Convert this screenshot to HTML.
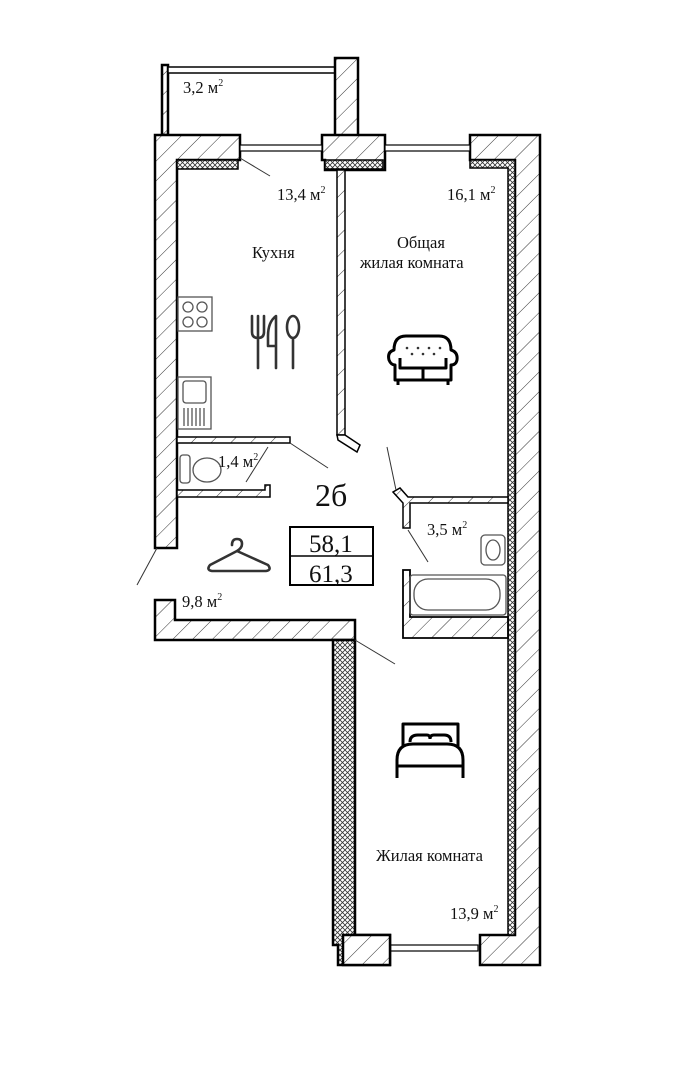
<!DOCTYPE html>
<html><head><meta charset="utf-8"><style>
html,body{margin:0;padding:0;background:#fff;}
svg{display:block;}
text{font-family:"Liberation Serif",serif;fill:#111;}
</style></head><body>
<svg width="698" height="1080" viewBox="0 0 698 1080" xmlns="http://www.w3.org/2000/svg">
<defs>
<pattern id="h" patternUnits="userSpaceOnUse" width="14" height="14" patternTransform="rotate(45)">
<rect width="14" height="14" fill="#fff"/><line x1="0" y1="0" x2="0" y2="14" stroke="#333" stroke-width="1"/>
</pattern>
<pattern id="x" patternUnits="userSpaceOnUse" width="5" height="5">
<rect width="5" height="5" fill="#fff"/><path d="M0 0L5 5M5 0L0 5" stroke="#333" stroke-width="0.8"/>
</pattern>
</defs>
<g stroke="#000" stroke-width="2.5">
<rect x="162" y="65" width="6" height="70" fill="url(#h)"/>
<rect x="168" y="67" width="167" height="6" fill="#fff" stroke-width="1.5"/>
<rect x="335" y="58" width="23" height="80" fill="url(#h)"/>
<path d="M155 135H240V160H177V548H155Z" fill="url(#h)"/>
<rect x="177" y="160" width="61" height="9" fill="url(#x)" stroke-width="1.5"/>
<path d="M322 135H385V160H385V170H325V160H322Z" fill="url(#h)"/>
<rect x="325" y="160" width="58" height="9" fill="url(#x)" stroke-width="1.5"/>
<path d="M470 135H540V965H480V935H515V160H470Z" fill="url(#h)"/>
<path d="M470 160H515V935H508V168H470Z" fill="url(#x)" stroke-width="1.5"/>
<rect x="240" y="145" width="82" height="6" fill="#fff" stroke-width="1.2"/>
<rect x="385" y="145" width="85" height="6" fill="#fff" stroke-width="1.2"/>
<rect x="390" y="945" width="88" height="6" fill="#fff" stroke-width="1.2"/>
<rect x="337" y="170" width="8" height="265" fill="url(#h)" stroke-width="1.5"/>
<path d="M337 435L345 435L360 445L357 452L338 440Z" fill="#fff" stroke-width="1.5"/>
<rect x="177" y="437" width="113" height="6" fill="url(#h)" stroke-width="1.5"/>
<path d="M177 490H265V485H270V497H177Z" fill="url(#h)" stroke-width="1.5"/>
<path d="M155 600H175V620H355V640H155Z" fill="url(#h)"/>
<path d="M333 640H355V935H390V965H338V945H333Z" fill="url(#x)"/>
<rect x="343" y="935" width="47" height="30" fill="url(#h)"/>
<path d="M393 492L400 488L408 497L508 497V503H410V528H403V503Z" fill="url(#h)" stroke-width="1.5"/>
<path d="M403 570H410V617H508V638H403Z" fill="url(#h)" stroke-width="1.8"/>
<rect x="290" y="527" width="83" height="58" fill="#fff" stroke-width="2"/>
<line x1="290" y1="556" x2="373" y2="556" stroke-width="1.5"/>
</g>
<g stroke="#333" stroke-width="1" fill="none">
<line x1="240" y1="158" x2="270" y2="176"/>
<line x1="290" y1="443" x2="328" y2="468"/>
<line x1="268" y1="447" x2="246" y2="482"/>
<line x1="387" y1="447" x2="396" y2="490"/>
<line x1="408" y1="530" x2="428" y2="562"/>
<line x1="157" y1="548" x2="137" y2="585"/>
<line x1="355" y1="640" x2="395" y2="664"/>
</g>
<g stroke="#555" stroke-width="1.3" fill="none">
<rect x="178" y="297" width="34" height="34"/>
<circle cx="188" cy="307" r="5"/><circle cx="202" cy="307" r="5"/><circle cx="188" cy="322" r="5"/><circle cx="202" cy="322" r="5"/>
<rect x="178" y="377" width="33" height="52"/>
<rect x="183" y="381" width="23" height="22" rx="3"/>
<path d="M184 408v18M188 408v18M192 408v18M196 408v18M200 408v18M204 408v18"/>
<rect x="180" y="455" width="10" height="28" rx="3"/>
<ellipse cx="207" cy="470" rx="14" ry="12"/>
<rect x="410" y="575" width="96" height="40" rx="3"/>
<rect x="414" y="579" width="86" height="31" rx="14"/>
<rect x="481" y="535" width="24" height="30" rx="4"/>
<ellipse cx="493" cy="550" rx="7" ry="10"/>
</g>
<g stroke="#333" stroke-width="2.6" fill="none" stroke-linecap="round" stroke-linejoin="round">
<path d="M252 316v16q0 6 6 6q6 0 6-6v-16M258 316v22M258 338v30"/>
<path d="M276 368v-52q-8 6-8 20v10h8"/>
<ellipse cx="293" cy="327" rx="6" ry="11"/><path d="M293 338v30"/>
<path d="M232 545q0-6 5-6q5 0 5 5q0 4-5 7L210 565q-4 5 2 6h54q6-1 2-6L237 551"/>
</g>
<g stroke="#000" stroke-width="3" fill="none" stroke-linejoin="round">
<path d="M394 350q-7 2-5 10q2 5 6 5v15h56v-15q5 0 6-5q1-8-6-10q0-14-12-14h-33q-12 0-12 14z"/>
<path d="M400 358v10h46v-10M423 368v12"/>
<path d="M398 380v5M448 380v5"/>
<path d="M403 746V724h55v22"/>
<path d="M410 742q0-7 8-7h9q3 0 3 4M430 739q0-4 4-4h10q7 0 7 7"/>
<path d="M397 778V760q0-16 16-16h34q16 0 16 16v18"/>
<path d="M397 766h66"/>
</g>
<g fill="#333"><circle cx="407" cy="348" r="1.3"/><circle cx="418" cy="348" r="1.3"/><circle cx="429" cy="348" r="1.3"/><circle cx="440" cy="348" r="1.3"/><circle cx="412" cy="354" r="1.3"/><circle cx="423" cy="354" r="1.3"/><circle cx="434" cy="354" r="1.3"/></g>
<g font-size="16.5">
<text x="183" y="93">3,2 м<tspan font-size="10" dy="-7">2</tspan></text>
<text x="277" y="200">13,4 м<tspan font-size="10" dy="-7">2</tspan></text>
<text x="447" y="200">16,1 м<tspan font-size="10" dy="-7">2</tspan></text>
<text x="252" y="258">Кухня</text>
<text x="397" y="248">Общая</text>
<text x="360" y="268">жилая комната</text>
<text x="218" y="467">1,4 м<tspan font-size="10" dy="-7">2</tspan></text>
<text x="182" y="607">9,8 м<tspan font-size="10" dy="-7">2</tspan></text>
<text x="427" y="535">3,5 м<tspan font-size="10" dy="-7">2</tspan></text>
<text x="376" y="861">Жилая комната</text>
<text x="450" y="919">13,9 м<tspan font-size="10" dy="-7">2</tspan></text>
</g>
<text x="315" y="506" font-size="32">2б</text>
<text x="309" y="552" font-size="25">58,1</text>
<text x="309" y="582" font-size="25">61,3</text>
</svg>
</body></html>
